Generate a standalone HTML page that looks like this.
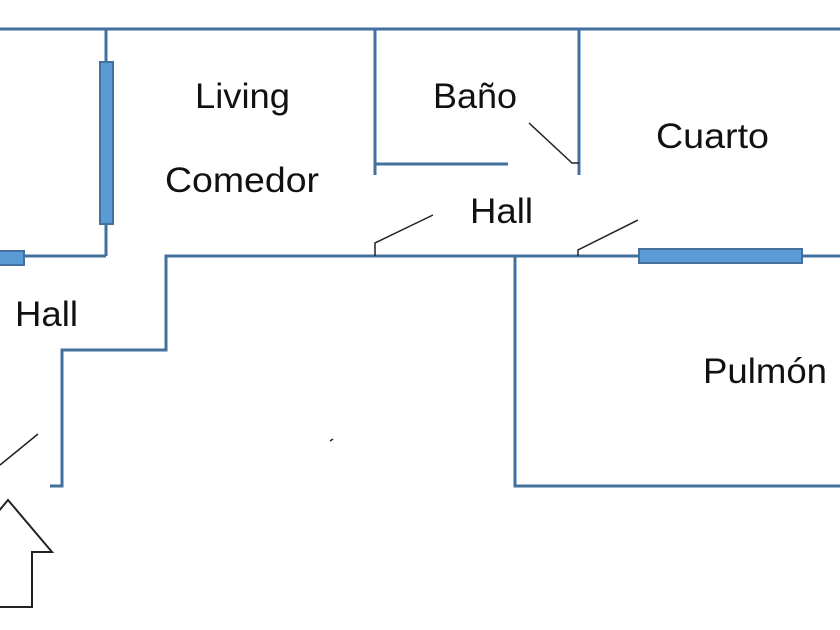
<!DOCTYPE html>
<html><head><meta charset="utf-8"><style>html,body{margin:0;padding:0;background:#fff}svg{display:block}</style></head><body>
<svg width="840" height="630" viewBox="0 0 840 630" xmlns="http://www.w3.org/2000/svg">
<rect width="840" height="630" fill="#fff"/>
<g stroke="#41719c" stroke-width="3" fill="none">
<line x1="0" y1="29" x2="840" y2="29"/>
<line x1="106" y1="29" x2="106" y2="256"/>
<line x1="0" y1="256" x2="106" y2="256"/>
<polyline points="840,256 166,256 166,350 62,350 62,486 50,486"/>
<line x1="375" y1="29" x2="375" y2="175"/>
<line x1="375" y1="164" x2="508" y2="164"/>
<line x1="579" y1="29" x2="579" y2="175"/>
<polyline points="515,256 515,486 840,486"/>
</g>
<g fill="#5b9bd5" stroke="#41719c" stroke-width="2">
<rect x="100" y="62" width="13" height="162"/>
<rect x="-2" y="251" width="26" height="14"/>
<rect x="639" y="249" width="163" height="14"/>
</g>
<g stroke="#222" stroke-width="1.5" fill="none">
<polyline points="529,123 572,163 579,163"/>
<polyline points="375,256 375,243 433,215"/>
<polyline points="578,256 578,250 638,220"/>
<line x1="0" y1="465" x2="38" y2="434"/>
<line x1="330" y1="441" x2="333" y2="439"/>
<polygon points="-2,512 8,500 52,552 32,552 32,607 -2,607" stroke-width="2"/>
</g>
<g font-family="Liberation Sans, sans-serif" font-size="35" fill="#111">
<text x="195" y="108" textLength="95" lengthAdjust="spacingAndGlyphs">Living</text>
<text x="165" y="192" textLength="154" lengthAdjust="spacingAndGlyphs">Comedor</text>
<text x="433" y="108" textLength="84" lengthAdjust="spacingAndGlyphs">Baño</text>
<text x="656" y="148" textLength="113" lengthAdjust="spacingAndGlyphs">Cuarto</text>
<text x="470" y="223" textLength="63" lengthAdjust="spacingAndGlyphs">Hall</text>
<text x="15" y="326" textLength="63" lengthAdjust="spacingAndGlyphs">Hall</text>
<text x="703" y="383" textLength="124" lengthAdjust="spacingAndGlyphs">Pulmón</text>
</g>
</svg>
</body></html>
